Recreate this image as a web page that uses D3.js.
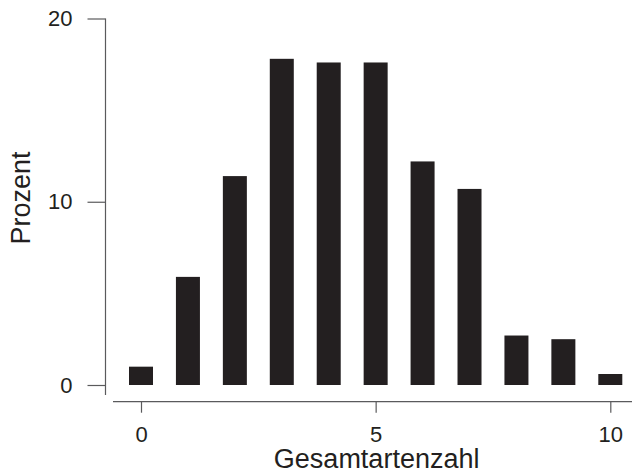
<!DOCTYPE html>
<html>
<head>
<meta charset="utf-8">
<script src="https://cdn.jsdelivr.net/npm/d3@7"></script>
<style>
  html, body { margin: 0; padding: 0; background: #fff; }
  svg { display: block; font-family: "Liberation Sans", Arial, Helvetica, sans-serif; }
</style>
</head>
<body>
<svg id="chart" width="632" height="473"></svg>
<script>
// Anzahl der Arten (Kategorien) und Anteil in Prozent
const categories = [0, 1, 2, 3, 4, 5, 6, 7, 8, 9, 10];
const percent    = [1.0, 5.9, 11.4, 17.8, 17.6, 17.6, 12.2, 10.7, 2.7, 2.5, 0.6];
const xTickLabels = [0, 5, 10];
const yTickLabels = [0, 10, 20];

const ink = "#231f20";
const axisGrey = "#5a5a5c";

const svg = d3.select("#chart");

const x = d3.scaleLinear().domain([0, 10]).range([141, 610.3]);
const y = d3.scaleLinear().domain([0, 20]).range([385, 18.5]);
const barWidth = 24;

// Balken
svg.append("g")
  .selectAll("rect")
  .data(categories)
  .join("rect")
  .attr("x", (d) => x(d) - barWidth / 2)
  .attr("width", barWidth)
  .attr("y", (d, i) => y(percent[i]))
  .attr("height", (d, i) => y(0) - y(percent[i]))
  .attr("fill", ink);

// y-Achse
const yAxisX = 105.5;
const yAxis = svg.append("g")
  .attr("transform", `translate(${yAxisX},0)`)
  .call(d3.axisLeft(y).tickValues(yTickLabels).tickSize(18).tickPadding(15).tickSizeOuter(0));
yAxis.select(".domain").remove();
yAxis.append("line")
  .attr("x1", 0).attr("x2", 0)
  .attr("y1", y(20)).attr("y2", y(0) + 10)
  .attr("stroke", axisGrey).attr("stroke-width", 1.2);
yAxis.selectAll(".tick line").attr("stroke", axisGrey).attr("stroke-width", 1.2);
yAxis.selectAll(".tick text")
  .attr("fill", ink).attr("font-size", 22)
  .attr("font-family", "Liberation Sans, Arial, sans-serif");

// x-Achse
const xAxisY = 401.7;
const xAxis = svg.append("g")
  .attr("transform", `translate(0,${xAxisY})`)
  .call(d3.axisBottom(x).tickValues(xTickLabels).tickSize(11).tickPadding(14).tickSizeOuter(0));
xAxis.select(".domain").remove();
xAxis.append("line")
  .attr("x1", 113).attr("x2", 632)
  .attr("y1", 0).attr("y2", 0)
  .attr("stroke", axisGrey).attr("stroke-width", 1.2);
xAxis.selectAll(".tick line").attr("stroke", axisGrey).attr("stroke-width", 1.2);
xAxis.selectAll(".tick text")
  .attr("fill", ink).attr("font-size", 22)
  .attr("font-family", "Liberation Sans, Arial, sans-serif");

// Achsentitel
svg.append("text")
  .attr("x", x(5) + 1)
  .attr("y", 468.3)
  .attr("text-anchor", "middle")
  .attr("font-size", 27)
  .attr("fill", ink)
  .text("Gesamtartenzahl");

svg.append("text")
  .attr("transform", "translate(29.5,198) rotate(-90)")
  .attr("text-anchor", "middle")
  .attr("font-size", 27)
  .attr("fill", ink)
  .text("Prozent");
</script>
</body>
</html>
